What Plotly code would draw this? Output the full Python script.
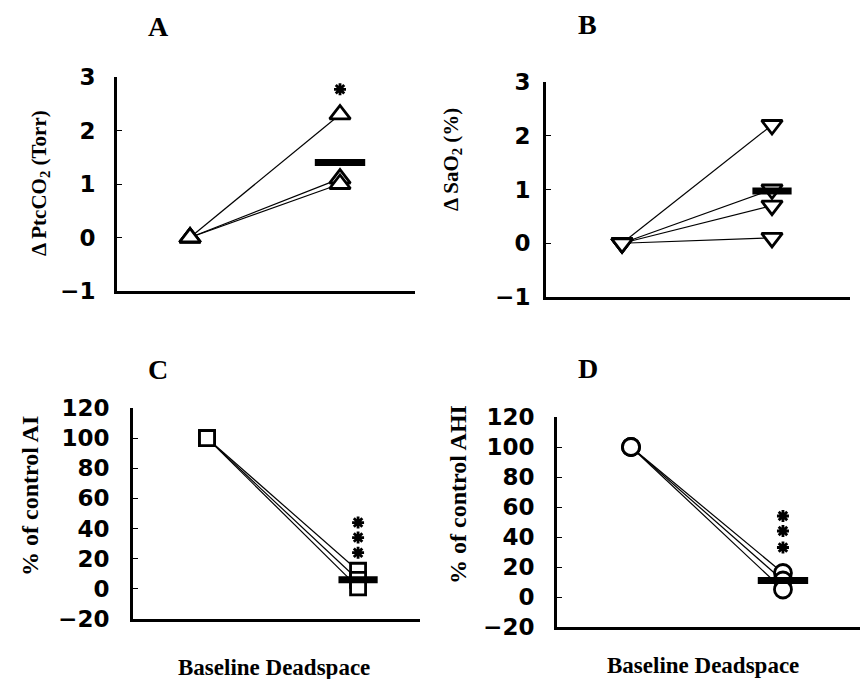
import plotly.graph_objects as go

# ---------------- data ----------------
conditions = ["Baseline", "Deadspace"]
x_pos = [0, 1]

ptcco2_baseline = [0, 0, 0]
ptcco2_deadspace = [2.3, 1.1, 1.0]
ptcco2_mean = [1.4]
ptcco2_sig = [2.77]

sao2_baseline = [0, 0, 0, 0]
sao2_deadspace = [2.2, 1.0, 0.7, 0.1]
sao2_mean = [0.97]

ai_baseline = [100, 100, 100]
ai_deadspace = [12, 6, 1]
ai_mean = [6]
ai_sig = [44, 34, 24]

ahi_baseline = [100, 100, 100]
ahi_deadspace = [16, 11, 5]
ahi_mean = [11]
ahi_sig = [54, 44, 33]

ticks_gas = [-1, 0, 1, 2, 3]
ticks_pct = [-20, 0, 20, 40, 60, 80, 100, 120]

# ---------------- figure ----------------
fig = go.Figure()

panels = [
    dict(xa="x", ya="y", base=ptcco2_baseline, dead=ptcco2_deadspace, mean=ptcco2_mean,
         sig=ptcco2_sig, symbol="triangle-up", msize=18, mean_size=36),
    dict(xa="x2", ya="y2", base=sao2_baseline, dead=sao2_deadspace, mean=sao2_mean,
         sig=[], symbol="triangle-down", msize=18, mean_size=28),
    dict(xa="x3", ya="y3", base=ai_baseline, dead=ai_deadspace, mean=ai_mean,
         sig=ai_sig, symbol="square", msize=15, mean_size=28),
    dict(xa="x4", ya="y4", base=ahi_baseline, dead=ahi_deadspace, mean=ahi_mean,
         sig=ahi_sig, symbol="circle", msize=17, mean_size=36),
]

for p in panels:
    for b, d in zip(p["base"], p["dead"]):
        fig.add_trace(go.Scatter(
            x=x_pos, y=[b, d], xaxis=p["xa"], yaxis=p["ya"],
            mode="lines+markers",
            line=dict(color="black", width=1.2),
            marker=dict(symbol=p["symbol"], size=p["msize"], color="white",
                        line=dict(color="black", width=2.8)),
            showlegend=False, hoverinfo="skip"))
    fig.add_trace(go.Scatter(
        x=[x_pos[1]], y=p["mean"], xaxis=p["xa"], yaxis=p["ya"], mode="markers",
        marker=dict(symbol="line-ew", size=p["mean_size"], color="black",
                    line=dict(color="black", width=7)),
        showlegend=False, hoverinfo="skip"))
    if p["sig"]:
        fig.add_trace(go.Scatter(
            x=[x_pos[1]] * len(p["sig"]), y=p["sig"], xaxis=p["xa"], yaxis=p["ya"],
            mode="markers",
            marker=dict(symbol="asterisk-open", size=10, color="black",
                        line=dict(color="black", width=2.8)),
            showlegend=False, hoverinfo="skip"))

W, H = 866, 679

def dom_x(a, b):
    return [a / W, b / W]

def dom_y(top, bottom):
    return [1 - bottom / H, 1 - top / H]

tickfont = dict(family="DejaVu Sans", size=23, color="black", weight="bold")

def xax(domain, rng, anchor):
    return dict(domain=domain, range=rng, anchor=anchor, showline=True, linewidth=3,
                linecolor="black", ticks="", showticklabels=False, showgrid=False,
                zeroline=False, fixedrange=True, automargin=False)

def yax(domain, rng, anchor, tickvals, standoff):
    return dict(domain=domain, range=rng, anchor=anchor, showline=True, linewidth=3,
                linecolor="black", ticks="inside", ticklen=5, tickwidth=1,
                tickcolor="black", tickvals=tickvals,
                ticktext=[("\u2212" + str(-v)) if v < 0 else str(v) for v in tickvals],
                tickfont=tickfont, ticklabelstandoff=standoff, showgrid=False,
                zeroline=False, fixedrange=True, automargin=False)

fig.update_layout(
    width=W, height=H, autosize=False,
    margin=dict(l=0, r=0, t=0, b=0, pad=0, autoexpand=False),
    paper_bgcolor="white", plot_bgcolor="white", showlegend=False,
    xaxis=xax(dom_x(117, 415), [-0.487, 1.5], "y"),
    yaxis=yax(dom_y(77, 291), [-1, 3], "x", ticks_gas, 14),
    xaxis2=xax(dom_x(546, 850), [-0.507, 1.52], "y2"),
    yaxis2=yax(dom_y(82, 297), [-1, 3], "x2", ticks_gas, 8),
    xaxis3=xax(dom_x(133, 420), [-0.49, 1.41], "y3"),
    yaxis3=yax(dom_y(408, 619), [-20, 120], "x3", ticks_pct, 16),
    xaxis4=xax(dom_x(557, 860), [-0.487, 1.507], "y4"),
    yaxis4=yax(dom_y(417, 627), [-20, 120], "x4", ticks_pct, 15),
)

serif = "Liberation Serif"

def ann(text, x, y, size, angle=0):
    fig.add_annotation(text=text, x=x / W, y=1 - y / H, xref="paper", yref="paper",
                       showarrow=False, textangle=angle, xanchor="center", yanchor="middle",
                       font=dict(family=serif, size=size, color="black", weight="bold"))

ann("A", 158, 27, 28)
ann("B", 587, 25, 28)
ann("C", 158, 370, 28)
ann("D", 588, 368, 28)

ann("\u0394 PtcCO<sub>2</sub> (Torr)", 40, 183, 21, -90)
ann("\u0394 SaO<sub>2</sub> (%)", 452, 160, 21, -90)
ann("% of control AI", 30, 496, 24, -90)
ann("% of control AHI", 458, 495, 24, -90)

ann("Baseline Deadspace", 274, 667, 23)
ann("Baseline Deadspace", 703, 665, 23)

fig.write_html("out.html")
